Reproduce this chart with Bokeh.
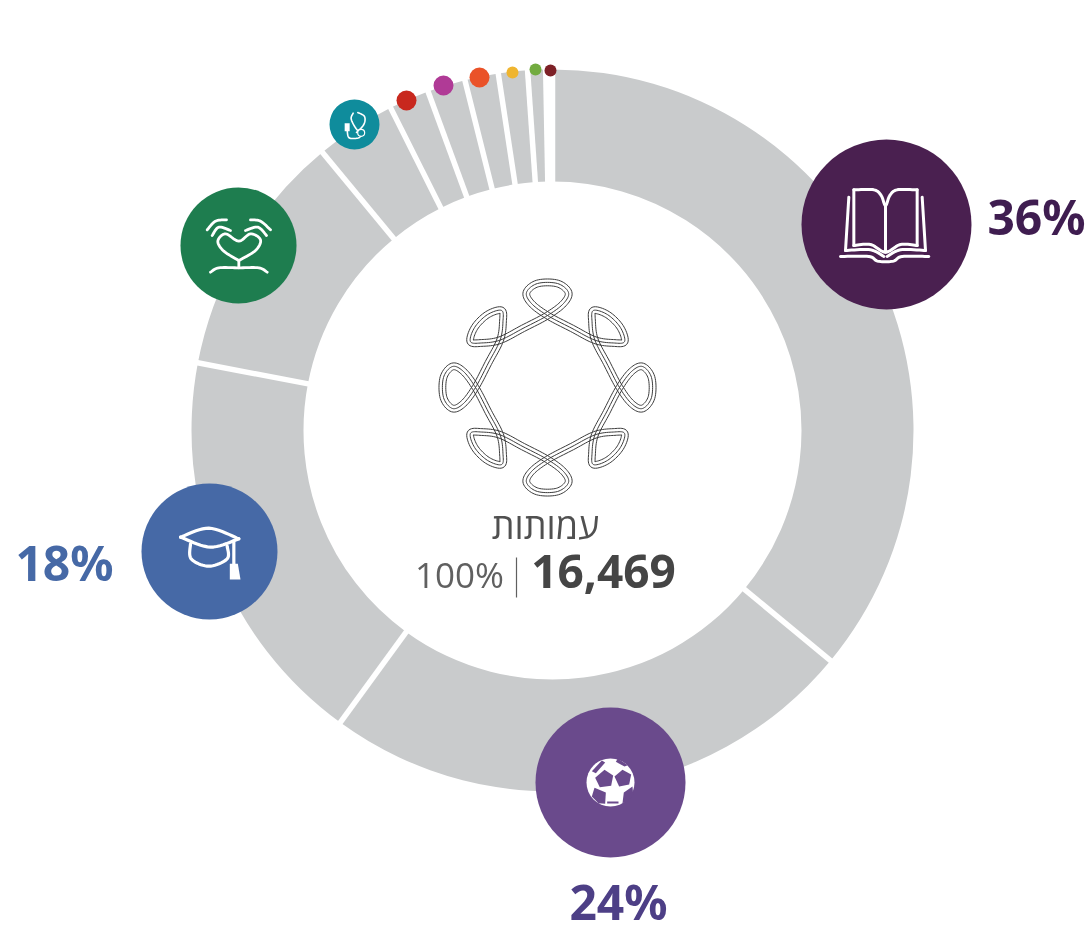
import math
import numpy as np
from bokeh.plotting import figure
from bokeh.models import ColumnDataSource
from bokeh.core.properties import value
from bokeh.embed import file_html
from bokeh.resources import INLINE

# ---- data -------------------------------------------------------------
shares = [36, 24, 18, 11, 3.6, 1.8, 1.7, 1.5, 1.3, 0.8, 0.3]
ring_colors = ["#c9cbcc"] * 10 + ["#ffffff"]
badge_colors = ["#4a2050", "#6a4a8c", "#4669a6", "#1e7d4f", "#0f8c9c", "#c8281e",
                "#b03a96", "#ea5228", "#efb530", "#72ab40", "#7d2026"]
badge_x = [886, 610, 209, 238, 354, 406, 443, 479, 512, 535, 550]
badge_y = [224, 782, 551, 245, 124, 100, 85, 77, 72, 69, 70]
badge_d = [170, 150, 136, 116, 50, 20, 20, 20, 12, 12, 12]
label_text = ["36%", "24%", "18%"]
label_x = [1036, 618, 64]
label_y = [216, 901, 562]
label_color = ["#3f1d50", "#4d3f86", "#4669a6"]
center_title = "עמותות"
center_pct = "100%"
center_total = "16,469"

CX, CY, R_OUT, R_IN = 552, 430, 361, 249
W, H = 1092, 934


def spline(pts, closed=False, n=10):
    pts = [tuple(q) for q in pts]
    P = pts if closed else [pts[0]] + pts + [pts[-1]]
    m = len(P)
    xs, ys = [], []
    rng = range(m) if closed else range(m - 3)
    for i in rng:
        if closed:
            p0, p1, p2, p3 = P[i - 1], P[i], P[(i + 1) % m], P[(i + 2) % m]
        else:
            p0, p1, p2, p3 = P[i], P[i + 1], P[i + 2], P[i + 3]
        for t in np.linspace(0, 1, n, endpoint=False):
            a = [0.5 * (2 * p1[k] + (p2[k] - p0[k]) * t + (2 * p0[k] - 5 * p1[k] + 4 * p2[k] - p3[k]) * t * t
                        + (3 * p1[k] - p0[k] - 3 * p2[k] + p3[k]) * t ** 3) for k in (0, 1)]
            xs.append(a[0]); ys.append(a[1])
    if closed:
        xs.append(xs[0]); ys.append(ys[0])
    else:
        xs.append(pts[-1][0]); ys.append(pts[-1][1])
    return xs, ys


def place(paths, ox, oy, smooth=True):
    """Icon outlines are noted at 3x around an origin."""
    X, Y = [], []
    for path in paths:
        xs, ys = spline(path) if smooth else zip(*path)
        X.append([ox + v / 3 for v in xs]); Y.append([oy + v / 3 for v in ys])
    return X, Y


p = figure(width=W, height=H, x_range=(0, W), y_range=(H, 0), output_backend="svg",
           toolbar_location=None, min_border=0, outline_line_color=None,
           background_fill_color="#ffffff", border_fill_color="#ffffff")
p.axis.visible = False
p.grid.visible = False
p.styles = {"position": "fixed", "left": "0px", "top": "0px"}

# ---- ring --------------------------------------------------------------
ends = np.cumsum(shares) / sum(shares) * 360
starts = np.concatenate([[0], ends[:-1]])
ring = ColumnDataSource(dict(
    x=[CX] * len(shares), y=[CY] * len(shares), color=ring_colors,
    start=[math.radians(90 - a) for a in starts],
    end=[math.radians(90 - a) for a in ends]))
p.annular_wedge("x", "y", inner_radius=R_IN, outer_radius=R_OUT, start_angle="start", end_angle="end",
                direction="clock", source=ring, fill_color="color", line_color=None)
bx0 = [CX + (R_IN - 3) * math.sin(math.radians(a)) for a in ends]
by0 = [CY - (R_IN - 3) * math.cos(math.radians(a)) for a in ends]
bx1 = [CX + (R_OUT + 3) * math.sin(math.radians(a)) for a in ends]
by1 = [CY - (R_OUT + 3) * math.cos(math.radians(a)) for a in ends]
p.segment(bx0, by0, bx1, by1, line_color="#ffffff", line_width=5.5)

# ---- badges ------------------------------------------------------------
p.scatter(badge_x, badge_y, size=badge_d, color=badge_colors, marker="circle", line_color=None)

WHITE = dict(line_color="#ffffff", line_cap="round", line_join="round")

# book
book_paths = [
    [(190, 178), (250, 178), (272, 195), (285, 225), (298, 195), (320, 178), (380, 178)],
    [(190, 178), (190, 345)], [(380, 178), (380, 345)],
    [(190, 345), (240, 342), (285, 365), (330, 342), (380, 345)],
    [(285, 225), (285, 365)],
    [(175, 200), (165, 360)], [(395, 200), (405, 360)],
    [(165, 360), (240, 358), (280, 378)], [(405, 360), (330, 358), (290, 378)],
    [(150, 378), (235, 378), (262, 392), (308, 392), (335, 378), (415, 378)],
]
X, Y = place(book_paths, 790, 130)
p.multi_line(X, Y, line_width=3, **WHITE)

# hands and heart
heart_paths = [
    [(205, 240), (160, 212), (142, 182), (165, 160), (205, 182), (240, 160), (270, 178), (255, 210), (205, 240)],
    [(205, 240), (205, 262)],
    [(120, 275), (145, 262), (205, 262), (265, 262), (290, 275)],
    [(110, 148), (135, 122), (168, 118)], [(125, 165), (145, 140), (180, 150)],
    [(300, 148), (270, 122), (240, 118)], [(288, 165), (262, 140), (225, 150)],
]
X, Y = place(heart_paths, 170, 180)
p.multi_line(X, Y, line_width=2.8, **WHITE)

# graduation cap
cap_paths = [
    [(150, 185), (235, 158), (325, 190)], [(325, 190), (240, 215), (150, 185)],
    [(180, 205), (182, 250), (235, 272), (290, 250), (290, 212)],
    [(310, 195), (310, 265)],
]
X, Y = place(cap_paths, 130, 475)
p.multi_line(X, Y, line_width=3.2, **WHITE)
tx, ty = place([[(298, 265), (322, 265), (330, 312), (298, 312)]], 130, 475, smooth=False)
p.patches(tx, ty, fill_color="#ffffff", line_color=None)

# football
p.scatter([610], [782], size=48, color="#ffffff", marker="circle", line_color=None)
ball_paths = [
    [(222, 208), (248, 225), (242, 256), (208, 260), (194, 232)],
    [(276, 208), (302, 222), (296, 252), (266, 258), (252, 228)],
    [(192, 262), (226, 276), (224, 310), (204, 308), (184, 288)],
    [(306, 258), (280, 276), (276, 308), (292, 302), (308, 282)],
    [(184, 212), (214, 180), (224, 186), (196, 218)],
    [(262, 174), (292, 194), (282, 198), (256, 184)],
    [(230, 303), (264, 303), (264, 309), (230, 309)],
]
X, Y = place(ball_paths, 530, 700, smooth=False)
p.patches(X, Y, fill_color="#6a4a8c", line_color=None)

# stethoscope
steth_paths = [
    [(98, 188), (92, 205), (105, 232), (118, 245)],
    [(112, 186), (132, 198), (130, 222), (108, 246)],
    [(80, 238), (86, 262), (115, 262), (120, 252)],
]
X, Y = place(steth_paths, 320, 50)
p.multi_line(X, Y, line_width=1.6, **WHITE)
p.scatter([320 + 122 / 3], [50 + 247 / 3], size=7, marker="circle", fill_color="#0f8c9c",
          line_color="#ffffff", line_width=1.2)
p.rect([320 + 80 / 3], [50 + 230 / 3], width=5, height=8, fill_color="#ffffff", line_color=None)

# ---- knot --------------------------------------------------------------
KX, KY = 547, 387
n = 8
strand = []
for i in range(n):
    axis = math.radians(i * 360 / n)
    if i % 2 == 0:
        cross, tip = 72, 104
        local = [(cross, 0), (84, 16), (95, 21), (tip, 10), (tip, -10), (95, -21), (84, -16), (cross, 0)]
    else:
        cross, tip = 67, 94
        local = [(cross, 0), (78, 15), (87, 22), (tip, 9), (tip, -9), (87, -22), (78, -15), (cross, 0)]
    rm, am = 64, math.radians(22.5)
    local = local + [(rm * math.cos(am), rm * math.sin(am))]
    for u, v in local:
        # u is radial, v runs clockwise round the knot
        strand.append((KX + u * math.sin(axis) + v * math.cos(axis),
                       KY - u * math.cos(axis) + v * math.sin(axis)))
cx_, cy_ = spline(strand, closed=True, n=10)
cx_, cy_ = np.array(cx_), np.array(cy_)
dx_, dy_ = np.gradient(cx_), np.gradient(cy_)
nrm = np.hypot(dx_, dy_) + 1e-9
offs = [-3.4, 0, 3.4]
p.multi_line([list(cx_ + o * dy_ / nrm) for o in offs], [list(cy_ - o * dx_ / nrm) for o in offs],
             line_color="#3c3c3c", line_width=1)

# ---- texts -------------------------------------------------------------
p.text(label_x, label_y, text=label_text, text_color=label_color, text_font=value("Noto Sans"),
       text_font_style="bold", text_font_size="48px", text_align="center", text_baseline="middle")
p.text([545], [525], text=[center_title], text_color="#505050", text_font=value("Open Sans"),
       text_font_size="36px", text_align="center", text_baseline="middle")
p.text([459], [574], text=[center_pct], text_color="#606060", text_font=value("Open Sans"),
       text_font_size="35px", text_align="center", text_baseline="middle")
p.text([603], [571], text=[center_total], text_color="#454545", text_font=value("Noto Sans"),
       text_font_style="bold", text_font_size="46px", text_align="center", text_baseline="middle")
p.segment([516], [557], [516], [597], line_color="#606060", line_width=1.2)

open("out.html", "w").write(file_html(p, INLINE))
